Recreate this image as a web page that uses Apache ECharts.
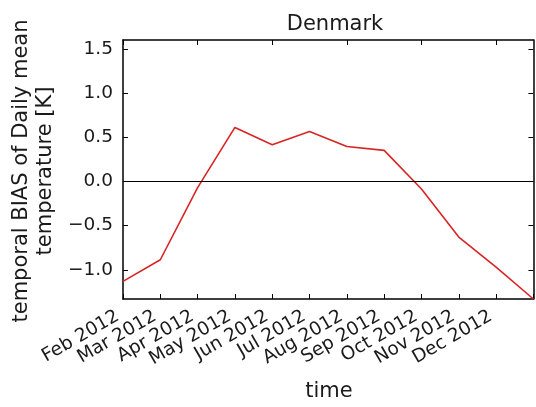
<!DOCTYPE html>
<html>
<head>
<meta charset="utf-8">
<script src="https://cdn.jsdelivr.net/npm/echarts@6/dist/echarts.min.js"></script>
<style>
html,body{margin:0;padding:0;background:#fff;}
#c{width:536px;height:407px;}
</style>
</head>
<body>
<div id="c"></div>
<script>
const categories = ['Feb 2012','Mar 2012','Apr 2012','May 2012','Jun 2012','Jul 2012','Aug 2012','Sep 2012','Oct 2012','Nov 2012','Dec 2012',''];
const biasValues = [-1.13, -0.886, -0.07, 0.611, 0.415, 0.566, 0.396, 0.351, -0.086, -0.629, -0.97, -1.33];
const yTicks = [-1.0, -0.5, 0.0, 0.5, 1.0, 1.5];
const yMin = -1.33, yMax = 1.6;
const titleText = 'Denmark';
const yLabelLines = ['temporal BIAS of Daily mean', 'temperature [K]'];
const xLabelText = 'time';

const font = 'DejaVu Sans';
const chart = echarts.init(document.getElementById('c'));
const axisLine = {show: true, onZero: false, lineStyle: {color: '#000', width: 1.5}};
const tick = {show: true, inside: true, length: 5, lineStyle: {color: '#000', width: 1}};
chart.setOption({
  animation: false,
  title: {text: titleText, left: 330, top: 9, textAlign: 'center',
    textStyle: {fontFamily: font, fontSize: 21, fontWeight: 'normal', color: '#1a1a1a'}},
  grid: {left: 123, top: 40, right: 0, bottom: 108, containLabel: false},
  xAxis: [{
    type: 'category', data: categories, boundaryGap: false, position: 'bottom',
    axisLine: axisLine, axisTick: tick,
    axisLabel: {rotate: 30, interval: 0, margin: 13, padding: [0, 6, 0, 0],
      fontFamily: font, fontSize: 18.5, color: '#1a1a1a'},
    splitLine: {show: false}
  }, {
    type: 'category', data: categories, boundaryGap: false, position: 'top',
    axisLine: axisLine, axisTick: tick,
    axisLabel: {show: false}, splitLine: {show: false}
  }],
  yAxis: [{
    type: 'value', min: yMin, max: yMax, position: 'left',
    axisLine: axisLine,
    axisTick: Object.assign({customValues: yTicks}, tick),
    axisLabel: {customValues: yTicks, margin: 10, fontFamily: font, fontSize: 18.5, color: '#1a1a1a',
      formatter: v => (v < 0 ? '\u2212' : '') + Math.abs(v).toFixed(1)},
    splitLine: {show: false}
  }, {
    type: 'value', min: yMin, max: yMax, position: 'right',
    axisLine: axisLine,
    axisTick: Object.assign({customValues: yTicks}, tick),
    axisLabel: {show: false}, splitLine: {show: false}
  }],
  graphic: [{
    type: 'text', x: 10, y: 171, rotation: Math.PI / 2,
    style: {text: yLabelLines.join('\n'), font: '21px "DejaVu Sans"', fill: '#1a1a1a',
      align: 'center', verticalAlign: 'top', lineHeight: 24}
  }, {
    type: 'text', x: 329, y: 392,
    style: {text: xLabelText, font: '21px "DejaVu Sans"', fill: '#1a1a1a', align: 'center', verticalAlign: 'middle'}
  }],
  series: [{
    type: 'line', data: biasValues, xAxisIndex: 0, yAxisIndex: 0,
    symbol: 'none', lineStyle: {color: '#d92424', width: 1.6},
    markLine: {silent: true, symbol: 'none', label: {show: false},
      lineStyle: {color: '#000', width: 1, type: 'solid'}, data: [{yAxis: 0}]}
  }]
});
</script>
</body>
</html>
